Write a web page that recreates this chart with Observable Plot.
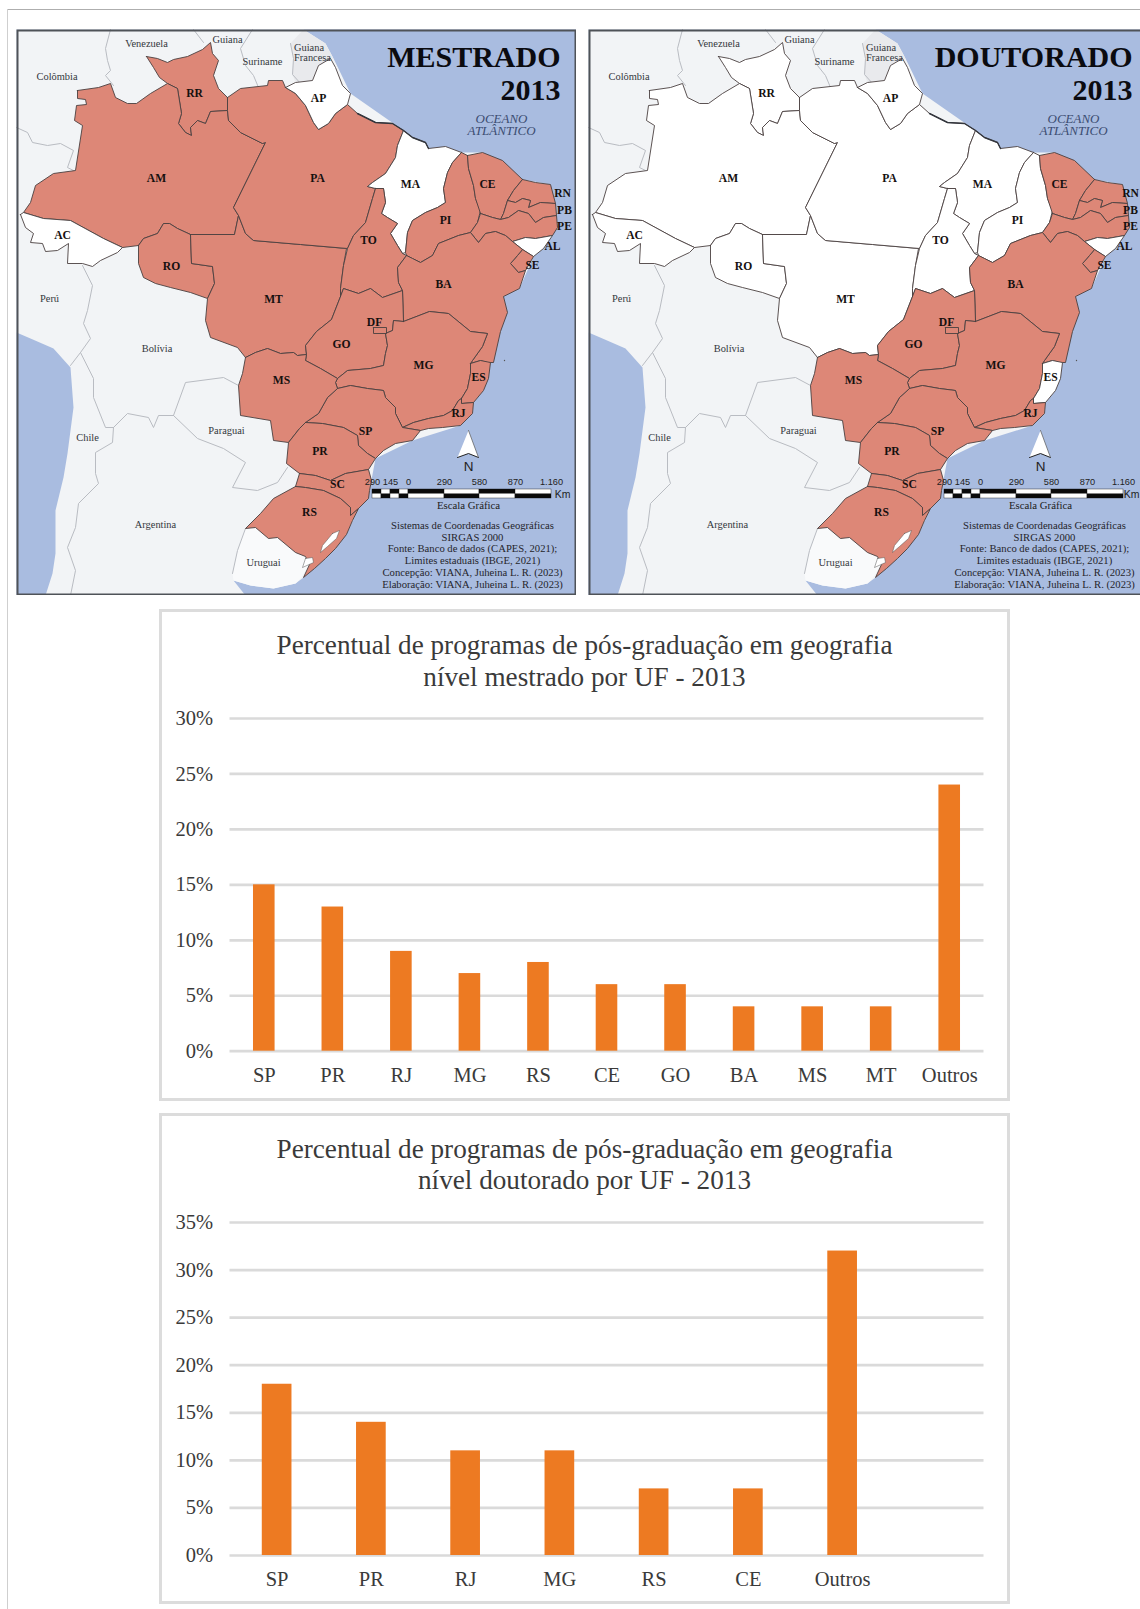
<!DOCTYPE html>
<html lang="pt">
<head>
<meta charset="utf-8">
<script src="https://cdn.jsdelivr.net/npm/d3@7"></script>
<script src="https://cdn.jsdelivr.net/npm/@observablehq/plot@0.6"></script>
<style>
html,body{margin:0;padding:0;background:#fff;overflow:hidden;width:1140px;height:1609px}
#page{position:relative;width:1140px;height:1609px;overflow:hidden;background:#fff}
#page>div,#page>svg{position:absolute}
.box{border:3px solid #dcdcdc;box-sizing:border-box;background:#fff}
.ttl{font-family:"Liberation Serif",serif;font-size:27.2px;line-height:31.5px;color:#3a3a3a;text-align:center;position:absolute;left:0;right:0;white-space:nowrap}
.edgeT{background:#aeaeae;height:1px;left:7px;right:0;top:9px}
.edgeL{background:#cfcfcf;width:1px;left:7px;top:9px;bottom:0}
</style>
</head>
<body>
<div id="page"></div>
<script>
// ---------- Bar chart data ----------
const categoriasMestrado = ["SP","PR","RJ","MG","RS","CE","GO","BA","MS","MT","Outros"];
const valoresMestrado    = [15,13,9,7,8,6,6,4,4,4,24];
const ticksMestrado      = [0,5,10,15,20,25,30];
const categoriasDoutorado = ["SP","PR","RJ","MG","RS","CE","Outros"," "];
const valoresDoutorado    = [18,14,11,11,7,7,32,null];
const ticksDoutorado      = [0,5,10,15,20,25,30,35];

// ---------- Map geometry (map units) ----------
const terra = [[16,29],[303,29],[325,43],[333,58],[350,93],[403,130],[428,148],[461,152],[482,152],[522,179],[550,184],[557,227],[533,256],[519,288],[502,296],[500,331],[490,362],[483,390],[473,402],[472,413],[460,425],[412,440],[375,458],[369,490],[358,508],[346,534],[325,558],[303,577],[295,583],[273,588],[250,585],[233,580],[245,595],[45,595],[52,573],[55,553],[55,510],[63,477],[67,453],[73,407],[70,367],[53,348],[30,338],[16,332]];
const uruguai = [[245,528],[255,527],[268,538],[277,537],[295,552],[305,556],[309,564],[300,578],[295,583],[273,588],[250,585],[233,580],[232,573],[237,550]];
const guianaFrancesa = [[290,43],[303,29],[325,43],[333,58],[318,65],[312,80],[295,82],[292,74],[293,58]];
const RR = [[146,56],[157,58],[167,62],[173,59],[187,56],[202,49],[210,42],[212,53],[218,60],[213,75],[218,88],[227,97],[227,110],[210,111],[205,123],[197,120],[190,127],[191,135],[185,132],[178,123],[181,113],[177,88],[167,83],[159,77],[153,67]];
const AM = [[77,90],[98,87],[110,83],[115,97],[127,103],[136,103],[150,93],[167,83],[177,88],[181,113],[178,123],[185,132],[191,135],[190,127],[197,120],[205,123],[210,111],[227,110],[228,120],[240,132],[262,143],[265,142],[233,207],[238,215],[234,234],[190,234],[177,228],[169,223],[163,223],[157,233],[143,238],[138,245],[122,247],[103,238],[70,220],[43,218],[23,212],[30,202],[35,185],[53,173],[75,170],[82,125],[74,120],[76,105],[86,104],[85,99],[77,98]];
const AC = [[20,214],[23,212],[43,218],[70,220],[103,238],[122,247],[117,252],[100,260],[92,266],[82,263],[67,263],[68,243],[57,250],[45,251],[42,243],[30,242],[33,233],[25,227]];
const RO = [[138,245],[143,238],[157,233],[163,223],[169,223],[177,228],[190,234],[191,263],[212,266],[214,283],[207,298],[190,292],[170,287],[155,283],[143,277],[138,263]];
const MT = [[190,234],[234,234],[238,215],[245,233],[253,240],[300,244],[346,248],[343,265],[340,288],[340,296],[331,319],[316,331],[305,345],[306,354],[297,355],[293,352],[280,353],[267,348],[255,352],[245,357],[237,347],[210,337],[205,320],[207,298],[214,283],[212,266],[191,263]];
const PA = [[227,97],[240,88],[267,85],[268,80],[282,80],[285,87],[295,93],[305,105],[313,122],[318,129],[328,123],[335,113],[347,104],[357,113],[375,122],[392,123],[403,130],[397,145],[395,157],[385,173],[372,182],[367,186],[375,188],[372,198],[365,222],[353,235],[347,248],[300,244],[253,240],[245,233],[238,215],[233,207],[265,142],[262,143],[240,132],[228,120],[227,110]];
const AP = [[285,87],[295,82],[312,80],[318,65],[330,58],[335,67],[342,85],[350,93],[347,104],[335,113],[328,123],[318,129],[313,122],[305,105],[295,93]];
const MA = [[403,130],[412,137],[425,142],[428,148],[445,146],[461,152],[452,162],[447,172],[443,188],[445,202],[437,207],[425,212],[412,220],[407,232],[405,252],[402,253],[397,245],[390,233],[397,223],[387,217],[381,213],[385,202],[383,188],[375,188],[367,186],[372,182],[385,173],[395,157],[397,145]];
const TO = [[375,188],[383,188],[385,202],[381,213],[387,217],[397,223],[390,233],[397,245],[402,253],[406,255],[397,267],[398,282],[402,290],[382,297],[370,288],[358,293],[343,288],[340,296],[340,288],[343,265],[347,248],[353,235],[365,222],[372,198]];
const PI = [[461,152],[467,155],[468,168],[473,185],[475,198],[480,210],[477,222],[470,232],[458,235],[438,243],[432,255],[420,262],[412,258],[406,255],[405,252],[407,232],[412,220],[425,212],[437,207],[445,202],[443,188],[447,172],[452,162]];
const CE = [[467,155],[482,152],[502,160],[522,179],[513,190],[507,200],[503,213],[500,219],[492,217],[480,213],[475,198],[473,185],[468,168]];
const RN = [[522,179],[535,182],[550,184],[555,203],[540,202],[528,207],[530,200],[522,198],[515,202],[507,200],[513,190]];
const PB = [[507,200],[515,202],[522,198],[530,200],[528,207],[540,202],[555,203],[556,215],[543,217],[535,222],[528,213],[518,210],[508,217],[500,219],[503,213]];
const PE = [[480,213],[492,217],[500,219],[508,217],[518,210],[528,213],[535,222],[543,217],[556,215],[557,227],[552,235],[535,238],[525,237],[512,241],[505,235],[495,231],[485,233],[478,242],[470,232],[477,222]];
const AL = [[512,241],[525,237],[535,238],[552,235],[543,248],[533,256],[522,249]];
const SE = [[522,249],[533,256],[525,270],[518,272],[510,263],[517,255]];
const BA = [[406,255],[412,258],[420,262],[432,255],[438,243],[458,235],[470,232],[478,242],[485,233],[495,231],[505,235],[512,241],[522,249],[517,255],[510,263],[518,272],[525,270],[519,288],[503,296],[507,312],[500,331],[493,362],[487,362],[480,360],[470,363],[472,360],[482,346],[487,333],[470,331],[448,313],[429,311],[403,321],[402,290],[398,282],[397,267]];
const GO = [[340,296],[343,288],[358,293],[370,288],[382,297],[402,290],[403,321],[393,320],[392,330],[385,333],[387,345],[385,353],[383,365],[370,368],[347,370],[337,378],[320,368],[305,360],[306,354],[305,345],[316,331],[331,319]];
const DF = [[373,327],[386,327],[386,333],[373,333]];
const MG = [[403,321],[429,311],[448,313],[470,331],[487,333],[482,346],[472,360],[470,363],[470,373],[467,388],[461,398],[458,400],[452,410],[443,415],[428,418],[413,422],[402,427],[395,413],[395,407],[385,397],[383,390],[367,388],[350,385],[337,388],[335,382],[337,378],[347,370],[370,368],[383,365],[385,353],[387,345],[385,333],[392,330],[393,320]];
const ES = [[470,363],[480,360],[490,362],[488,378],[483,390],[473,402],[461,403],[461,398],[467,388],[470,373]];
const RJ = [[461,398],[461,403],[473,402],[472,413],[460,425],[442,427],[428,428],[420,430],[402,427],[413,422],[428,418],[443,415],[452,410],[458,400]];
const SP = [[337,388],[350,385],[367,388],[383,390],[385,397],[395,407],[395,413],[402,427],[420,430],[412,440],[395,443],[383,450],[375,458],[367,453],[358,445],[357,435],[343,427],[322,423],[305,422],[318,413],[327,397]];
const MS = [[245,357],[255,352],[267,348],[280,353],[293,352],[297,355],[306,354],[305,360],[320,368],[337,378],[335,382],[337,388],[327,397],[318,413],[305,422],[299,428],[288,442],[273,440],[270,420],[240,415],[238,385],[242,373]];
const PR = [[305,422],[322,423],[343,427],[357,435],[358,445],[367,453],[375,458],[368,469],[345,473],[330,480],[315,475],[299,473],[286,463],[288,442],[299,428]];
const SC = [[299,473],[315,475],[330,480],[345,473],[368,469],[371,480],[369,490],[368,498],[358,508],[350,515],[350,507],[340,498],[323,490],[305,487],[295,486]];
const RS = [[295,486],[305,487],[323,490],[340,498],[350,507],[350,515],[358,508],[352,520],[346,534],[335,548],[325,558],[314,568],[303,577],[309,564],[305,556],[295,552],[277,537],[268,538],[255,527],[245,528],[260,513],[273,498]];
const lagoaPatos = [[332,533],[339,530],[336,538],[327,546],[320,552],[322,545]];
const lagoaMirim = [[305,558],[312,557],[313,562],[302,567]];
const fronteiras = [
  [[110,29],[105,48],[107,60],[110,70],[105,75],[113,85]],
  [[193,29],[203,42]],
  [[252,29],[240,48],[245,65],[253,75],[258,87]],
  [[290,43],[293,58],[292,74],[301,84]],
  [[16,127],[27,132],[32,142],[47,145],[60,143],[73,150],[67,167],[73,170]],
  [[82,265],[92,285],[87,310],[83,323],[90,338],[80,352],[70,365]],
  [[80,352],[93,378],[93,397],[105,427],[113,427]],
  [[113,427],[127,413],[148,417],[153,427],[158,415],[173,415]],
  [[173,415],[185,382],[223,377],[238,385]],
  [[173,415],[197,438],[223,448],[245,462],[232,487],[257,490],[277,482],[287,467]],
  [[113,427],[112,442],[95,452],[95,473],[98,483],[78,503],[75,527],[67,547],[75,570],[70,595]],
  [[245,528],[237,550],[232,573]]
];
const costaEscura = [[357,113],[375,122],[392,123],[403,130],[412,137],[425,142],[428,148]];

const estados = {RR,AM,AC,RO,MT,PA,AP,MA,TO,PI,CE,RN,PB,PE,AL,SE,BA,GO,MG,ES,RJ,SP,MS,PR,SC,RS,DF};
const siglas = [["RR",194,92.5],["AP",318,98],["AM",156,178],["PA",317,178],["MA",410,184],["CE",487,184],["RN",562,193],["PB",564,210],["PE",564,226],["PI",445,220],["AC",62,235],["TO",368,240],["AL",552,246],["SE",532,264.5],["RO",171,266],["BA",443,284],["MT",273,299],["DF",374,322],["GO",341,344],["MG",423,364.5],["MS",281,380],["ES",478,377],["RJ",458,413],["SP",365,431],["PR",319.5,451],["SC",337,483.5],["RS",309,511.5]];
const paises = [["Venezuela",146,43.5],["Guiana",227,39],["Suriname",262,61.5],["Guiana",308.5,47.5],["Francesa",312,57.5],["Colômbia",56.5,76.5],["Perú",49,298],["Bolívia",156.5,348],["Chile",87,437],["Paraguai",226,430],["Argentina",155,524],["Uruguai",263,562.5]];
const brancosMestrado  = ["AC","AP","MA","AL"];
const brancosDoutorado = ["AC","AP","MA","AL","AM","RR","PA","RO","MT","TO","PI","ES"];

const escalaMarcas = [["290",372],["145",390],["0",408],["290",444],["580",479],["870",515],["1.160",551]];
const escalaSegmentos = [[372,381,1],[381,390,0],[390,399,1],[399,408,0],[408,444,1],[444,479,0],[479,515,1],[515,551,0]];
const creditos = [["Sistemas de Coordenadas Geográficas",525],["SIRGAS 2000",537],["Fonte: Banco de dados (CAPES, 2021);",548.5],["Limites estaduais (IBGE, 2021)",560.5],["Concepção: VIANA, Juheina L. R. (2023)",572.5],["Elaboração: VIANA, Juheina L. R. (2023)",584]];
const seta = [[468,430],[478,457],[468,453],[457,457]];

const SERIF = '"Liberation Serif","Times New Roman",serif';
const SANS  = '"Liberation Sans",Arial,sans-serif';
const RED = "#dd8777", OCEAN = "#a9bce0", LAND = "#f2f4f6", LINE = "#4a4040";

const poly = (pts, o) => Plot.line([...pts, pts[0]], {x: d => d[0], y: d => d[1], curve: "linear-closed", ...o});
const txt = (rows, o) => Plot.text(rows, {x: d => d[1], y: d => d[2], text: d => d[0], fontFamily: SERIF, ...o});

// limite keeps the right-hand map's labels whole at the page edge
function mapa(left, titulo, brancos, limite) {
  const marks = [
    Plot.frame({fill: OCEAN}),
    poly(terra, {fill: LAND, stroke: "none"}),
    poly(uruguai, {fill: "#f9fafb", stroke: "none"}),
    poly(guianaFrancesa, {fill: "#e9eaed", stroke: "none"}),
    ...fronteiras.map(f => Plot.line(f, {x: d => d[0], y: d => d[1], stroke: "#b9bcc2", strokeWidth: 1})),
    ...Object.entries(estados).map(([k, pts]) =>
      poly(pts, {fill: brancos.includes(k) ? "#ffffff" : RED, stroke: LINE, strokeWidth: 0.9, strokeLinejoin: "round"})),
    poly(lagoaPatos, {fill: "#ffffff", stroke: "#555", strokeWidth: 0.5}),
    poly(lagoaMirim, {fill: "#ffffff", stroke: "#555", strokeWidth: 0.5}),
    Plot.line(costaEscura, {x: d => d[0], y: d => d[1], stroke: "#33363d", strokeWidth: 1.4}),
    Plot.dot([[504,360]], {x: d => d[0], y: d => d[1], r: 0.7, fill: "#555"}),
    txt(paises, {fontSize: 10.4, fill: "#33373c"}),
    txt(siglas, {x: d => Math.min(d[1], limite), fontSize: 11.6, fontWeight: "bold", fill: "#15100f"}),
    txt([[titulo, 560, 57], ["2013", 560, 90]], {fontSize: 30, fontWeight: "bold", fill: "#0b0b10", textAnchor: "end"}),
    txt([["OCEANO", 501, 118], ["ATLÂNTICO", 501, 130]], {fontSize: 13, fontStyle: "italic", fill: "#3c4d72"}),
    poly(seta, {fill: "#ffffff", stroke: "none"}),
    Plot.line(seta.slice(1), {x: d => d[0], y: d => d[1], stroke: "#222", strokeWidth: 1}),
    Plot.line(seta.slice(0,2), {x: d => d[0], y: d => d[1], stroke: "#555", strokeWidth: 0.7}),
    txt([["N", 468, 466]], {fontFamily: SANS, fontSize: 13.5, fill: "#222"}),
    Plot.rect(escalaSegmentos, {x1: d => d[0], x2: d => d[1], y1: 489, y2: 498, fill: "#ffffff", stroke: "#111", strokeWidth: 0.4}),
    Plot.rect(escalaSegmentos, {x1: d => d[0], x2: d => d[1], y1: d => d[2] ? 489 : 493.5, y2: d => d[2] ? 493.5 : 498, fill: "#0a0a0a"}),
    Plot.text(escalaMarcas, {x: d => d[1], y: 482, text: d => d[0], fontFamily: SANS, fontSize: 9.2, fill: "#222"}),
    txt([["Km", Math.min(562, limite + 1), 494]], {fontFamily: SANS, fontSize: 10.5, fill: "#222"}),
    txt([["Escala Gráfica", 468, 505]], {fontSize: 10.8, fill: "#222"}),
    Plot.text(creditos, {x: 472, y: d => d[1], text: d => d[0], fontFamily: SERIF, fontSize: 10.65, fill: "#25252b"}),
    Plot.frame({stroke: "#4f5358", strokeWidth: 2, inset: 1})
  ];
  const svg = Plot.plot({
    width: 560, height: 566, margin: 0,
    x: {domain: [16, 576], range: [0, 560], axis: null},
    y: {domain: [29, 595], range: [0, 566], axis: null},
    style: {background: "transparent", fontFamily: SERIF, overflow: "hidden"},
    marks
  });
  svg.style.left = left + "px";
  svg.style.top = "29px";
  document.getElementById("page").append(svg);
}

function barras(top, altura, titulo, categorias, valores, ticks, gridTop, gridBase, titleTop, padX) {
  const page = document.getElementById("page");
  const box = document.createElement("div");
  box.className = "box";
  box.style.cssText = `left:159px;top:${top}px;width:851px;height:${altura}px`;
  page.append(box);
  const t = document.createElement("div");
  t.className = "ttl";
  t.style.top = titleTop + "px";
  t.innerHTML = titulo;
  box.append(t);
  const dados = categorias.map((c, i) => ({c, v: valores[i]}));
  const svgTop = gridTop - 20, svgH = gridBase + 44 - svgTop;
  const svg = Plot.plot({
    width: 830, height: svgH,
    marginLeft: 69.5, marginRight: 6.5, marginTop: 20, marginBottom: 44,
    x: {domain: categorias, type: "band", round: false, paddingInner: 0.685, paddingOuter: 0.3425, label: null},
    y: {domain: [0, ticks[ticks.length - 1]], label: null},
    style: {background: "transparent", fontFamily: SERIF, color: "#3a3a3a"},
    marks: [
      Plot.ruleY(ticks, {stroke: "#dadada", strokeWidth: 2.7}),
      Plot.barY(dados.filter(d => d.v != null), {x: "c", y: "v", fill: "#ed7a22"}),
      Plot.axisX({tickSize: 0, tickPadding: padX, fontSize: 20.5, label: null}),
      Plot.axisY({ticks, tickSize: 0, tickPadding: 17, fontSize: 20.5, tickFormat: d => d + "%", label: null})
    ]
  });
  svg.style.left = "160px";
  svg.style.top = svgTop + "px";
  page.append(svg);
}

const pg = document.getElementById("page");
const eT = document.createElement("div"); eT.className = "edgeT"; pg.append(eT);
const eL = document.createElement("div"); eL.className = "edgeL"; pg.append(eL);

mapa(16, "MESTRADO", brancosMestrado, Infinity);
mapa(588, "DOUTORADO", brancosDoutorado, 558);
barras(609, 492, "Percentual de programas de pós-graduação em geografia<br>nível mestrado por UF - 2013",
  categoriasMestrado, valoresMestrado, ticksMestrado, 718.3, 1051, 18, 16);
barras(1113, 491, "Percentual de programas de pós-graduação em geografia<br>nível doutorado por UF - 2013",
  categoriasDoutorado, valoresDoutorado, ticksDoutorado, 1221.7, 1554.7, 17.5, 15.5);
</script>
</body>
</html>
